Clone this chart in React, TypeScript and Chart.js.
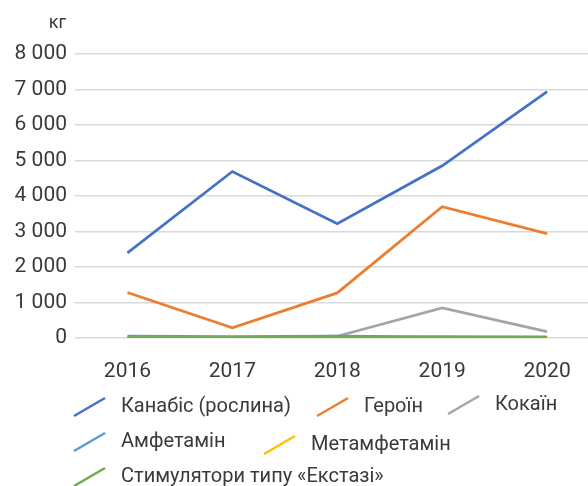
import React, { useEffect, useRef } from "react";
import { Chart, registerables } from "chart.js";

Chart.register(...registerables);

const years = [2016, 2017, 2018, 2019, 2020];
const yTicks = [0, 1000, 2000, 3000, 4000, 5000, 6000, 7000, 8000];
const cannabis = [2400, 4690, 3220, 4850, 6940];
const heroin = [1280, 290, 1270, 3700, 2940];
const cocaine = [20, 20, 50, 850, 180];
const amphetamine = [50, 40, 50, 30, 20];
const methamphetamine = [0, 0, 0, 0, 0];
const ecstasy = [10, 10, 20, 30, 30];

const seriesNames = [
  "Канабіс (рослина)",
  "Героїн",
  "Кокаїн",
  "Амфетамін",
  "Метамфетамін",
  "Стимулятори типу «Екстазі»",
];
const seriesValues = [cannabis, heroin, cocaine, amphetamine, methamphetamine, ecstasy];
const colors = ["#4472C4", "#ED7D31", "#A5A5A5", "#5B9BD5", "#FFC000", "#70AD47"];

const FONT = "Roboto, 'Noto Sans', sans-serif";
const TEXT = "#3a3a3a";

// legend layout: [x of symbol start, y center]
const legendPos = [
  [74, 407],
  [317, 407],
  [448, 405],
  [74, 442],
  [264, 445],
  [74, 477],
];

const fmt = (v: number) => String(v).replace(/\B(?=(\d{3})+(?!\d))/g, " ");

const extrasPlugin = {
  id: "extras",
  afterDraw(chart: any) {
    const ctx = chart.ctx;
    const yScale = chart.scales.y;
    ctx.save();
    ctx.fillStyle = TEXT;
    ctx.font = `18px ${FONT}`;
    ctx.textAlign = "right";
    ctx.textBaseline = "middle";
    ctx.fillText("кг", yScale.right - 9, 23);

    ctx.font = `20px ${FONT}`;
    ctx.textAlign = "left";
    seriesNames.forEach((name, i) => {
      const [x, y] = legendPos[i];
      ctx.strokeStyle = colors[i];
      ctx.lineWidth = 2.5;
      ctx.beginPath();
      ctx.moveTo(x, y + 9);
      ctx.lineTo(x + 31, y - 9);
      ctx.stroke();
      ctx.fillStyle = TEXT;
      ctx.fillText(name, x + 47, y);
    });
    ctx.restore();
  },
};

export default function App() {
  const ref = useRef<HTMLCanvasElement>(null);
  useEffect(() => {
    document.body.style.margin = "0";
    const chart = new Chart(ref.current!, {
      type: "line",
      data: {
        datasets: seriesNames.map((name, i) => ({
          label: name,
          data: years.map((yr, j) => ({ x: yr, y: seriesValues[i][j] })),
          borderColor: colors[i],
          backgroundColor: colors[i],
          borderWidth: 2.75,
          pointRadius: 0,
          tension: 0,
          order: seriesNames.length - i,
        })),
      },
      options: {
        animation: false,
        responsive: false,
        layout: { padding: { top: 54, right: 0, left: 0, bottom: 0 } },
        plugins: { legend: { display: false }, tooltip: { enabled: false } },
        scales: {
          x: {
            type: "linear",
            min: 2015.5,
            max: 2020.39,
            grid: { display: false },
            border: { display: false },
            afterBuildTicks: (s: any) => {
              s.ticks = years.map((v) => ({ value: v }));
            },
            afterFit: (s: any) => {
              s.height = 148;
            },
            ticks: {
              padding: 13,
              maxRotation: 0,
              autoSkip: false,
              color: TEXT,
              font: { family: FONT, size: 21 },
              callback: (v: any) => String(v),
            },
          },
          y: {
            min: 0,
            max: 8000,
            afterBuildTicks: (s: any) => {
              s.ticks = yTicks.map((v) => ({ value: v }));
            },
            afterFit: (s: any) => {
              s.width = 75;
            },
            grid: { color: "#d9d9d9", lineWidth: 1.5, drawTicks: false },
            border: { display: false },
            ticks: {
              padding: 8,
              color: TEXT,
              font: { family: FONT, size: 21 },
              callback: (v: any) => fmt(Number(v)),
            },
          },
        },
      },
      plugins: [extrasPlugin],
    });
    return () => chart.destroy();
  }, []);
  return (
    <div style={{ width: 588, height: 486 }}>
      <canvas ref={ref} width={588} height={486} style={{ display: "block" }} />
    </div>
  );
}
